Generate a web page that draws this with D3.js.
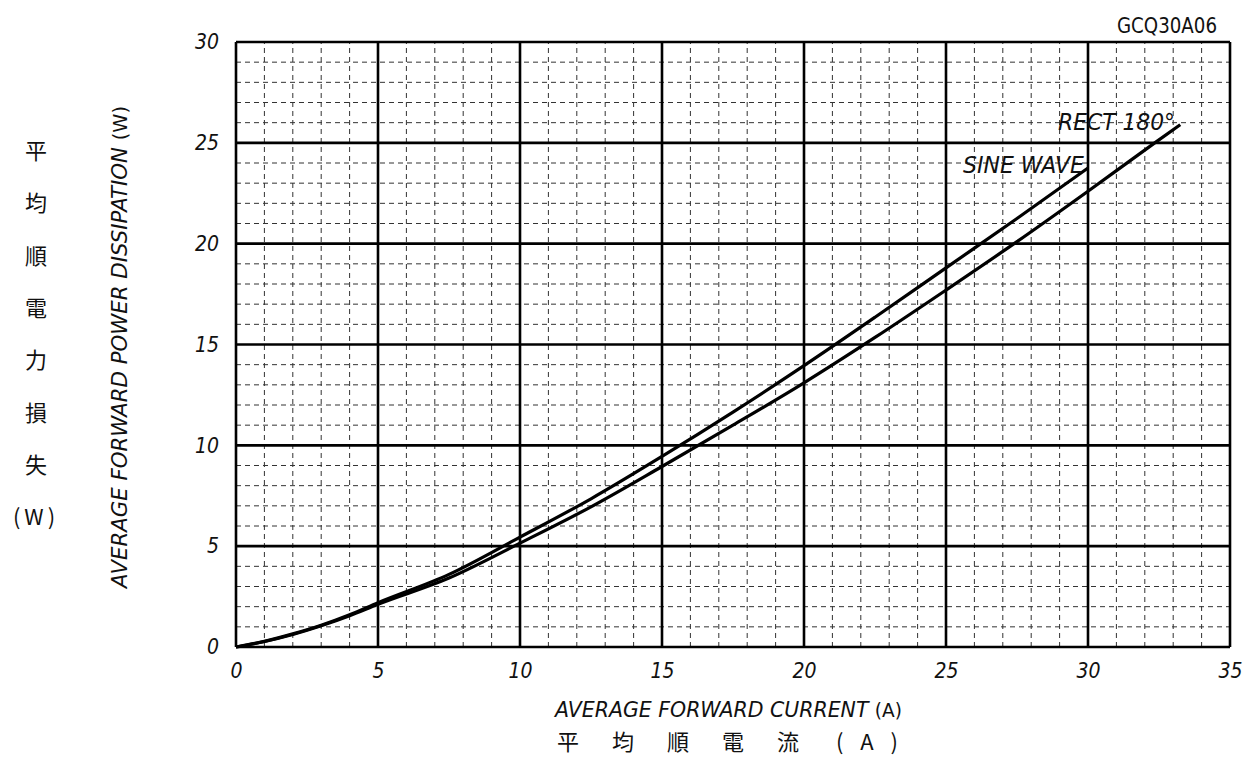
<!DOCTYPE html>
<html>
<head>
<meta charset="utf-8">
<script src="https://cdn.jsdelivr.net/npm/d3@7"></script>
<style>
  body { margin: 0; background: #fff; }
  text { fill: #111; }
</style>
</head>
<body>
<div id="chart"></div>
<script>
// curve readings (x = average forward current A, y = power W)
const sineX = [0, 1, 2, 3, 4, 5, 7.5, 10, 12.5, 15, 17.5, 20, 22.5, 25, 27.5, 30];
const sineY = [0, 0.28, 0.65, 1.08, 1.6, 2.2, 3.6, 5.45, 7.35, 9.45, 11.65, 13.95, 16.35, 18.8, 21.25, 23.75];
const rectX = [0, 1, 2, 3, 4, 5, 7.5, 10, 12.5, 15, 17.5, 20, 22.5, 25, 27.5, 30, 32.35, 33.25];
const rectY = [0, 0.27, 0.62, 1.05, 1.55, 2.12, 3.42, 5.15, 6.95, 8.95, 11.0, 13.1, 15.35, 17.7, 20.1, 22.6, 25.0, 25.9];

const xTicks = [0, 5, 10, 15, 20, 25, 30, 35];
const yTicks = [0, 5, 10, 15, 20, 25, 30];
const yLabelJa = ["平", "均", "順", "電", "力", "損", "失", "(W)"];
const xLabelJa = ["平", "均", "順", "電", "流"];

const width = 1246, height = 758;
const margin = { top: 42, right: 16, bottom: 111, left: 236 };

const svg = d3.select("#chart").append("svg")
  .attr("width", width)
  .attr("height", height);

const x = d3.scaleLinear().domain([0, 35]).range([margin.left, width - margin.right]);
const y = d3.scaleLinear().domain([0, 30]).range([height - margin.bottom, margin.top]);

const font = "'DejaVu Sans Condensed', 'DejaVu Sans', sans-serif";
const jaFont = "'Noto Sans CJK JP', sans-serif";

// minor dashed grid
const grid = svg.append("g");
grid.selectAll(".vminor")
  .data(d3.range(1, 35).filter(d => d % 5 !== 0))
  .enter().append("line")
  .attr("x1", d => x(d)).attr("x2", d => x(d))
  .attr("y1", y(0)).attr("y2", y(30))
  .attr("stroke", "#333").attr("stroke-width", 1)
  .attr("stroke-dasharray", "5,4");
grid.selectAll(".hminor")
  .data(d3.range(1, 30).filter(d => d % 5 !== 0))
  .enter().append("line")
  .attr("x1", x(0)).attr("x2", x(35))
  .attr("y1", d => y(d)).attr("y2", d => y(d))
  .attr("stroke", "#333").attr("stroke-width", 1)
  .attr("stroke-dasharray", "5,4");

// major solid grid
grid.selectAll(".vmajor")
  .data(xTicks)
  .enter().append("line")
  .attr("x1", d => x(d)).attr("x2", d => x(d))
  .attr("y1", y(0)).attr("y2", y(30))
  .attr("stroke", "#000").attr("stroke-width", 2.6);
grid.selectAll(".hmajor")
  .data(yTicks)
  .enter().append("line")
  .attr("x1", x(0)).attr("x2", x(35))
  .attr("y1", d => y(d)).attr("y2", d => y(d))
  .attr("stroke", "#000").attr("stroke-width", 2.6);

// axes (labels only)
const xAxis = svg.append("g")
  .attr("transform", `translate(0,${y(0)})`)
  .call(d3.axisBottom(x).tickValues(xTicks).tickSize(0).tickPadding(16));
const yAxis = svg.append("g")
  .attr("transform", `translate(${x(0)},0)`)
  .call(d3.axisLeft(y).tickValues(yTicks).tickSize(0).tickPadding(17));
[xAxis, yAxis].forEach(a => {
  a.select(".domain").remove();
  a.selectAll("text")
    .attr("font-family", font)
    .attr("font-size", 21)
    .attr("font-style", "italic")
    .attr("fill", "#111");
});

// curves
const line = d3.line().curve(d3.curveMonotoneX);
svg.append("path")
  .attr("d", line(sineX.map((d, i) => [x(d), y(sineY[i])])))
  .attr("fill", "none").attr("stroke", "#000").attr("stroke-width", 3.2);
svg.append("path")
  .attr("d", line(rectX.map((d, i) => [x(d), y(rectY[i])])))
  .attr("fill", "none").attr("stroke", "#000").attr("stroke-width", 3.2);

// curve labels
svg.append("text")
  .attr("x", 963).attr("y", 173)
  .attr("font-family", font).attr("font-size", 23).attr("font-style", "italic")
  .attr("textLength", 121).attr("lengthAdjust", "spacingAndGlyphs")
  .text("SINE WAVE");
svg.append("text")
  .attr("x", 1058).attr("y", 130)
  .attr("font-family", font).attr("font-size", 23).attr("font-style", "italic")
  .attr("textLength", 117).attr("lengthAdjust", "spacingAndGlyphs")
  .text("RECT 180°");

// part number
svg.append("text")
  .attr("x", 1117).attr("y", 33)
  .attr("font-family", font).attr("font-size", 22)
  .attr("textLength", 100).attr("lengthAdjust", "spacingAndGlyphs")
  .text("GCQ30A06");

// x axis titles
const xTitle = svg.append("text")
  .attr("x", 555).attr("y", 717)
  .attr("font-family", font).attr("font-size", 21)
  .attr("textLength", 347).attr("lengthAdjust", "spacingAndGlyphs");
xTitle.append("tspan").attr("font-style", "italic").text("AVERAGE FORWARD CURRENT ");
xTitle.append("tspan").attr("font-size", 19).text("(A)");

svg.append("g").selectAll("text")
  .data(xLabelJa)
  .enter().append("text")
  .attr("x", (d, i) => 557 + i * 55)
  .attr("y", 750)
  .attr("font-family", jaFont).attr("font-size", 22)
  .text(d => d);
svg.append("text")
  .attr("x", 836).attr("y", 750)
  .attr("font-family", jaFont).attr("font-size", 22)
  .attr("textLength", 62).attr("lengthAdjust", "spacing")
  .text("(A)");

// y axis titles
const yTitle = svg.append("text")
  .attr("transform", `translate(127,588) rotate(-90)`)
  .attr("font-family", font).attr("font-size", 22)
  .attr("textLength", 482).attr("lengthAdjust", "spacingAndGlyphs");
yTitle.append("tspan").attr("font-style", "italic").text("AVERAGE FORWARD POWER DISSIPATION ");
yTitle.append("tspan").attr("font-size", 20).text("(W)");

svg.append("g").selectAll("text")
  .data(yLabelJa)
  .enter().append("text")
  .attr("x", 36)
  .attr("y", (d, i) => 159 + i * 52.3)
  .attr("text-anchor", "middle")
  .attr("font-family", jaFont)
  .attr("font-size", 22)
  .attr("letter-spacing", d => d.length > 1 ? 4 : 0)
  .text(d => d);
</script>
</body>
</html>
